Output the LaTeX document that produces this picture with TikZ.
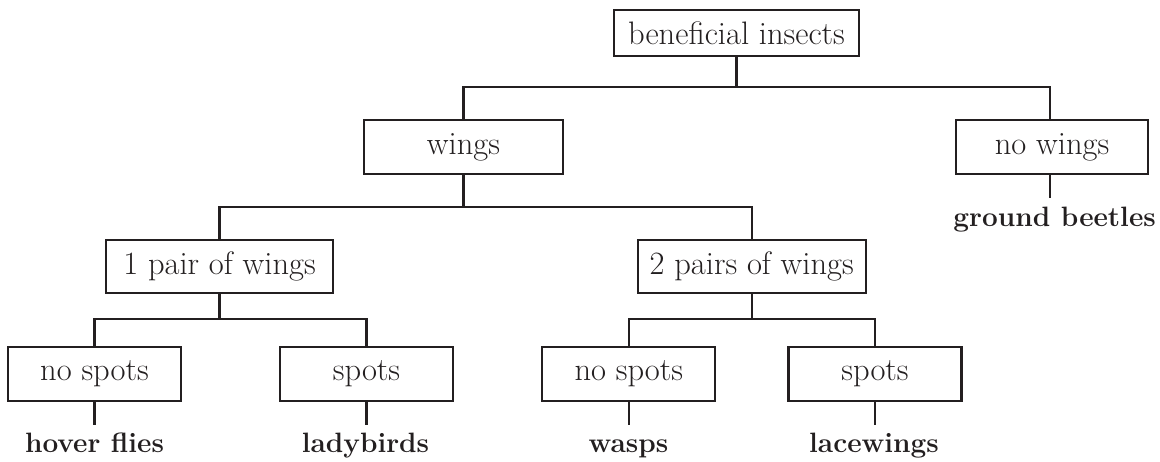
\documentclass[tikz,border=0pt]{standalone}
\definecolor{ink}{HTML}{231F20}
\tikzset{
  box/.style={draw=ink, line width=2.3pt, inner sep=0pt, minimum height=53pt, text=ink,
    font=\fontsize{32.5}{38}\selectfont},
  leaf/.style={anchor=base, inner sep=0pt, text=ink, font=\bfseries\fontsize{28}{33}\selectfont},
  conn/.style={draw=ink, line width=2.3pt}
}
\begin{document}
\begin{tikzpicture}[x=1pt,y=-1pt]
\useasboundingbox (0,0) rectangle (1160,461);
\node[box, minimum width=245pt, minimum height=46pt] (bi) at (736.5,33) {beneficial insects};
\node[box, minimum width=199pt, minimum height=54pt] (wings) at (463.5,147) {wings};
\node[box, minimum width=192pt, minimum height=54pt] (nowings) at (1052,147) {no wings};
\node[box, minimum width=227pt] (p1) at (219.5,266.5) {1 pair of wings};
\node[box, minimum width=228pt] (p2) at (751.7,266.5) {2 pairs of wings};
\node[box, minimum width=173pt, minimum height=54pt] (ns1) at (94.5,374) {no spots};
\node[box, minimum width=173pt, minimum height=54pt] (s1) at (366.5,374) {spots};
\node[box, minimum width=173pt, minimum height=54pt] (ns2) at (628.8,374) {no spots};
\node[box, minimum width=173pt, minimum height=54pt] (s2) at (875,374) {spots};
\node[leaf, anchor=base east] (gb) at (1156,226) {ground beetles};
\node[leaf] (hf) at (94.5,452) {hover flies};
\node[leaf] (lb) at (365.5,452) {ladybirds};
\node[leaf] (wa) at (628.5,452) {wasps};
\node[leaf] (lw) at (874,452) {lacewings};
\coordinate (b1) at (0,87.3);
\coordinate (b2) at (0,206.7);
\coordinate (b3) at (0,318.7);
\coordinate (nwtop) at ([xshift=-2pt]nowings.north);
\coordinate (nwbot) at ([xshift=-2pt]nowings.south);
\draw[conn] (bi.south) -- (bi.south |- b1);
\draw[conn] (wings.north) |- (b1 -| nwtop) -- (nwtop);
\draw[conn] (wings.south) -- (wings.south |- b2);
\draw[conn] (p1.north) |- (b2 -| p2.north) -- (p2.north);
\draw[conn] (p1.south) -- (p1.south |- b3);
\draw[conn] (ns1.north) |- (b3 -| s1.north) -- (s1.north);
\draw[conn] (p2.south) -- (p2.south |- b3);
\draw[conn] (ns2.north) |- (b3 -| s2.north) -- (s2.north);
\draw[conn] (nwbot) -- ++(0,23);
\draw[conn] (ns1.south) -- ++(0,22.5);
\draw[conn] (s1.south) -- ++(0,22.5);
\draw[conn] (ns2.south) -- ++(0,22.5);
\draw[conn] (s2.south) -- ++(0,22.5);
\end{tikzpicture}
\end{document}
